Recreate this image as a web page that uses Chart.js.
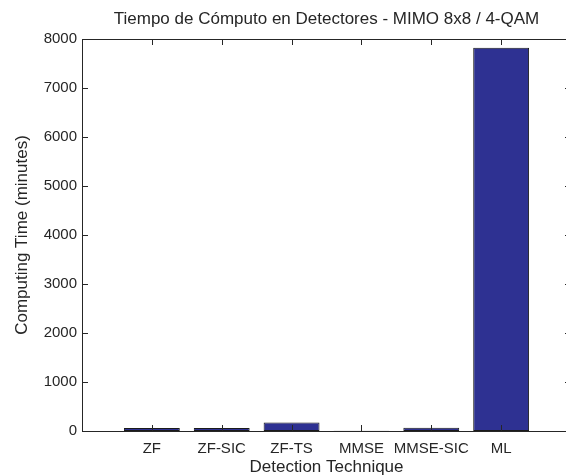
<!DOCTYPE html>
<html>
<head>
<meta charset="utf-8">
<script src="https://cdn.jsdelivr.net/npm/chart.js@4/dist/chart.umd.min.js"></script>
<style>
    html, body { margin: 0; padding: 0; overflow: hidden; background: #fff; }
    #frame { width: 566px; height: 476px; overflow: hidden; }
    canvas { display: block; }
</style>
</head>
<body>
<div id="frame"><canvas id="timeChart" width="580" height="476"></canvas></div>
<script>
// Data
const techniques = ["ZF", "ZF-SIC", "ZF-TS", "MMSE", "MMSE-SIC", "ML"];
const minutes = [60, 60, 175, 3, 68, 7820];
const yTicks = [0, 1000, 2000, 3000, 4000, 5000, 6000, 7000, 8000];

const fontFamily = '"Liberation Sans", Arial, Helvetica, sans-serif';
const textColor = "#262626";

// MATLAB style box with inward ticks
const matlabAxes = {
    id: "matlabAxes",
    afterDraw(chart) {
        const { ctx, chartArea: a, scales: { x, y } } = chart;
        ctx.save();
        ctx.strokeStyle = textColor;
        ctx.lineWidth = 1;
        ctx.strokeRect(Math.round(a.left) + 0.5, Math.round(a.top) + 0.5,
            Math.round(a.right - a.left), Math.round(a.bottom - a.top));
        ctx.beginPath();
        x.ticks.forEach(t => {
            if (!techniques[t.value - 1]) return;
            const px = Math.round(x.getPixelForValue(t.value)) + 0.5;
            ctx.moveTo(px, a.bottom);
            ctx.lineTo(px, a.bottom - 6);
            ctx.moveTo(px, a.top);
            ctx.lineTo(px, a.top + 6);
        });
        y.ticks.forEach(t => {
            const py = Math.round(y.getPixelForValue(t.value)) + 0.5;
            ctx.moveTo(a.left, py);
            ctx.lineTo(a.left + 6, py);
            ctx.moveTo(a.right, py);
            ctx.lineTo(a.right - 6, py);
        });
        ctx.stroke();
        ctx.restore();
    }
};

const timeChartConfig = {
    type: "bar",
    data: {
        datasets: [{
            label: "Computing Time",
            data: techniques.map((t, i) => ({ x: i + 1, y: minutes[i] })),
            backgroundColor: "#2e3192",
            borderColor: "#1a1a1a",
            borderWidth: 1,
            borderSkipped: false,
            categoryPercentage: 1,
            barPercentage: 0.8,
        }],
    },
    options: {
        responsive: false,
        animation: false,
        layout: { padding: { left: 0, right: 1, top: 0, bottom: 0 } },
        plugins: {
            legend: { display: false },
            tooltip: { enabled: false },
        },
        scales: {
            x: {
                type: "linear",
                min: 0,
                max: 7,
                offset: false,
                grid: { display: false, drawTicks: false },
                border: { display: false },
                ticks: {
                    stepSize: 1,
                    autoSkip: false,
                    maxRotation: 0,
                    padding: 9,
                    color: textColor,
                    font: { family: fontFamily, size: 15 },
                    callback: v => techniques[v - 1] || "",
                },
                title: {
                    display: true,
                    text: "Detection Technique",
                    color: textColor,
                    font: { family: fontFamily, size: 17, lineHeight: 1 },
                    padding: 0,
                },
                afterFit: s => { s.height = 45; },
            },
            // top axis only carries the title, centred over the plot box
            top: {
                type: "linear",
                position: "top",
                min: 0,
                max: 7,
                offset: false,
                grid: { display: false, drawTicks: false },
                border: { display: false },
                ticks: { display: false },
                title: {
                    display: true,
                    text: "Tiempo de Cómputo en Detectores - MIMO 8x8 / 4-QAM",
                    color: textColor,
                    font: { family: fontFamily, size: 17, lineHeight: 1 },
                    padding: { top: 10.5, bottom: 0 },
                },
                afterFit: s => { s.height = 39; },
            },
            y: {
                min: 0,
                max: 8000,
                grid: { display: false, drawTicks: false },
                border: { display: false },
                afterBuildTicks: s => { s.ticks = yTicks.map(v => ({ value: v })); },
                ticks: {
                    padding: 5,
                    color: textColor,
                    font: { family: fontFamily, size: 15 },
                    callback: v => String(v),
                },
                title: {
                    display: true,
                    text: "Computing Time (minutes)",
                    color: textColor,
                    font: { family: fontFamily, size: 17, lineHeight: 1 },
                    padding: { top: 13.5, bottom: 0 },
                },
                afterFit: s => { s.width = 82; },
            },
        },
    },
    plugins: [matlabAxes],
};
const timeChart = new Chart(
    document.getElementById("timeChart"),
    timeChartConfig
);
</script>
</body>
</html>
